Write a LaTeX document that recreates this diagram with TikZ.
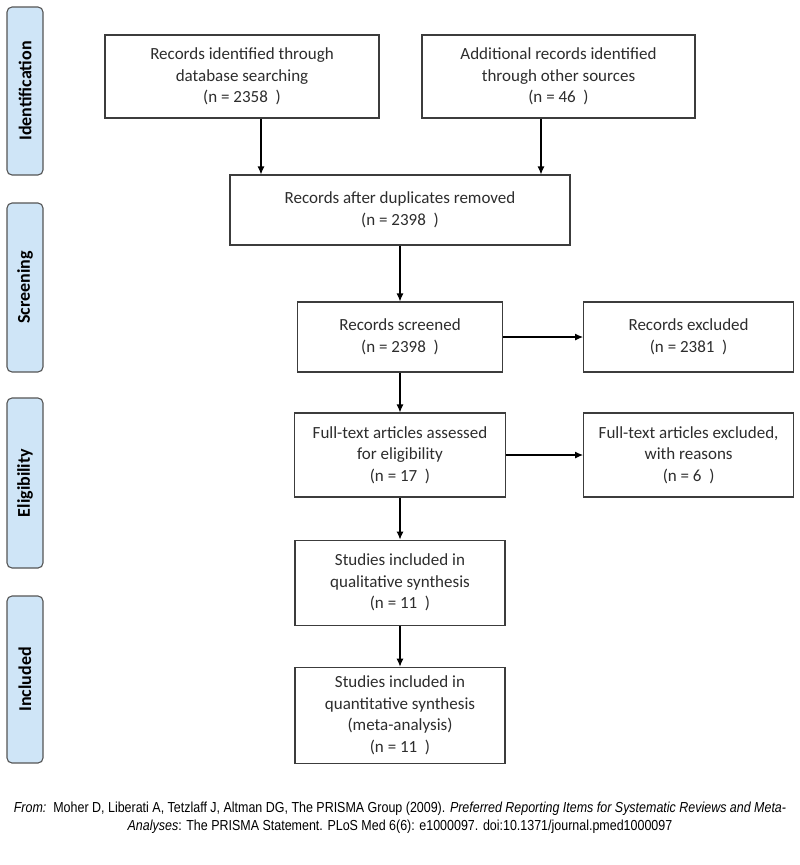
\documentclass[tikz,border=0pt]{standalone}
\usepackage{fontspec}
\setmainfont{Carlito}
\newfontfamily\citefont[FakeStretch=0.86]{Liberation Sans}
\usetikzlibrary{arrows.meta,positioning}
\definecolor{phasefill}{RGB}{207,229,247}
\definecolor{phaseline}{RGB}{85,85,85}
\definecolor{boxline}{RGB}{60,60,60}
\definecolor{boxtext}{RGB}{45,45,45}

\begin{document}
\begin{tikzpicture}[x=1pt,y=-1pt,->,>={Latex[length=8pt,width=7pt]},line width=1.1pt,
                    font=\fontsize{17}{21.5}\selectfont]
  \tikzstyle{box}=[draw=boxline,fill=white,text=boxtext,align=center,inner sep=0pt]
  \tikzstyle{phase}=[draw=phaseline,fill=phasefill,rounded corners=5pt,rotate=90,
                     minimum height=36pt,text=black,font=\fontsize{18}{20}\selectfont\bfseries]

  \useasboundingbox (0,0) rectangle (800,865);

  % phases on the left
  \node[phase,minimum width=168pt] (ident)  at (25,91)    {Identification};
  \node[phase,minimum width=169pt] (screen) at (25,287.5) {Screening};
  \node[phase,minimum width=170pt] (elig)   at (25,483)   {Eligibility};
  \node[phase,minimum width=167pt] (incl)   at (25,679.5) {Included};

  % flow boxes
  \node[box,minimum width=274pt,minimum height=83pt] (dbrec)    at (242,76.5)  {Records identified through\\database searching\\(n = 2358~~)};
  \node[box,minimum width=273pt,minimum height=83pt] (otherrec) at (558.5,76.5) {Additional records identified\\through other sources\\(n = 46~~)};
  \node[box,minimum width=340pt,minimum height=70pt] (dedup)    at (400,210)   {Records after duplicates removed\\(n = 2398~~)};
  \node[box,minimum width=205pt,minimum height=70pt] (screened) at (400,337)   {Records screened\\(n = 2398~~)};
  \node[box,minimum width=210pt,minimum height=70pt] (excl)     [right=80pt of screened] {Records excluded\\(n = 2381~~)};
  \node[box,minimum width=211pt,minimum height=84pt] (fulltext) at (400,455)   {Full-text articles assessed\\for eligibility\\(n = 17~~)};
  \node[box,minimum width=210pt,minimum height=84pt] (ftexcl)   [right=77pt of fulltext] {Full-text articles excluded,\\with reasons\\(n = 6~~)};
  \node[box,minimum width=210pt,minimum height=85pt] (qual)     [below=42pt of fulltext] {Studies included in\\qualitative synthesis\\(n = 11~~)};
  \node[box,minimum width=210pt,minimum height=96pt] (quant)    [below=41pt of qual] {Studies included in\\quantitative synthesis\\(meta-analysis)\\(n = 11~~)};

  % connectors
  \draw ([xshift=19pt]dbrec.south) -- ([xshift=19pt]dbrec.south |- dedup.north);
  \draw ([xshift=-17.5pt]otherrec.south) -- ([xshift=-17.5pt]otherrec.south |- dedup.north);
  \path (dedup)    edge (screened)
        (screened) edge (excl)
                   edge (fulltext)
        (fulltext) edge (ftexcl)
                   edge (qual)
        (qual)     edge (quant);

  % source line
  \node[font=\citefont\fontsize{14.5}{18}\selectfont,align=center,text=black] (source) at (400,818)
    {\textit{From:}~~Moher D, Liberati A, Tetzlaff J, Altman DG, The PRISMA Group (2009). \textit{Preferred Reporting Items for Systematic Reviews and Meta-}\\
     \textit{Analyses}: The PRISMA Statement. PLoS Med 6(6): e1000097. doi:10.1371/journal.pmed1000097};
\end{tikzpicture}
\end{document}
